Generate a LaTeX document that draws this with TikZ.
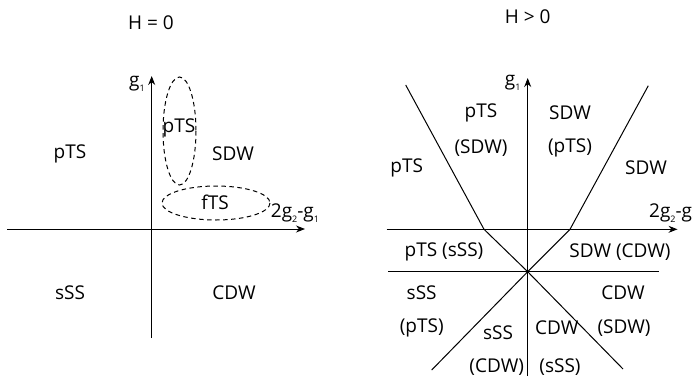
\documentclass[tikz,border=0pt]{standalone}
\usepackage{fontspec}
\setmainfont{Open Sans}
\usetikzlibrary{arrows.meta}
\newcommand{\lowsub}[1]{\raisebox{-0.45ex}{\fontsize{9}{10}\selectfont #1}}
\tikzset{
  lbl/.style={inner sep=0pt, font=\fontsize{19}{22}\selectfont},
  axis/.style={line width=1pt, -{Stealth[length=9pt,width=7pt]}},
  bline/.style={line width=1pt},
  dashell/.style={line width=1pt, dash pattern=on 4.5pt off 3.5pt},
}
\begin{document}
\begin{tikzpicture}[x=1pt,y=-1pt]
\useasboundingbox (0,0) rectangle (693,381);
% ---------- left: H = 0 ----------
\node[lbl] (t1) at (151,23) {H = 0};
\coordinate (lvb) at (151.7,338);
\coordinate (lvt) at (151.7,76);
\coordinate (lhl) at (7,229);
\coordinate (lhr) at (305,229);
\draw[axis] (lvb) -- (lvt);
\draw[axis] (lhl) -- (lhr);
\node[lbl] (lg1) at (137,84) {g\lowsub{1}};
\node[lbl] (lgx) at (295,213) {2g\lowsub{2}-g\lowsub{1}};
\draw[dashell] (179.5,131) ellipse [x radius=16.5, y radius=54];
\draw[dashell] (216,203) ellipse [x radius=54, y radius=17];
\node[lbl] (lp1) at (179,128) {pTS};
\node[lbl] (lf) at (215,202) {fTS};
\node[lbl] (lp) at (70,154) {pTS};
\node[lbl] (ls) at (233,154) {SDW};
\node[lbl] (lss) at (70,293) {sSS};
\node[lbl] (lc) at (234,293) {CDW};
% ---------- right: H > 0 ----------
\node[lbl] (t2) at (527.7,17) {H > 0};
\coordinate (o) at (527.7,271.7);
\coordinate (rvb) at (527.7,376);
\coordinate (rvt) at (527.7,78);
\coordinate (rhl) at (386.7,229.3);
\coordinate (rhr) at (677.5,229.3);
\coordinate (r2l) at (388,271.7);
\coordinate (r2r) at (659,271.7);
\coordinate (ultop) at (405.7,85);
\coordinate (ulk) at (484,229.3);
\coordinate (urtop) at (648.3,85.7);
\coordinate (urk) at (570,229.3);
\coordinate (llb) at (431.7,370);
\coordinate (lrb) at (623,369);
\draw[axis] (rvb) -- (rvt);
\draw[axis] (rhl) -- (rhr);
\draw[bline] (r2l) -- (r2r);
\draw[bline] (ultop) -- (ulk) -- (o) -- (lrb);
\draw[bline] (urtop) -- (urk) -- (o) -- (llb);
\node[lbl] (rg1) at (512.7,83) {g\lowsub{1}};
\node[lbl, anchor=west] (rgx) at (649,213) {2g\lowsub{2}-g\lowsub{1}};
\node[lbl] (a1) at (481,113) {pTS};
\node[lbl] (a2) at (481,148) {(SDW)};
\node[lbl] (b1) at (570,113) {SDW};
\node[lbl] (b2) at (570,148) {(pTS)};
\node[lbl] (c1) at (406.7,168) {pTS};
\node[lbl] (d1) at (646,168) {SDW};
\node[lbl] (e1) at (444,252) {pTS (sSS)};
\node[lbl] (f1) at (620,252) {SDW (CDW)};
\node[lbl] (g1) at (421.7,293) {sSS};
\node[lbl] (g2) at (421.7,328) {(pTS)};
\node[lbl] (h1) at (623,293) {CDW};
\node[lbl] (h2) at (624,328) {(SDW)};
\node[lbl] (i1) at (498,333) {sSS};
\node[lbl] (i2) at (496.7,367) {(CDW)};
\node[lbl] (j1) at (556.7,328) {CDW};
\node[lbl] (j2) at (560,367) {(sSS)};
\end{tikzpicture}
\end{document}
